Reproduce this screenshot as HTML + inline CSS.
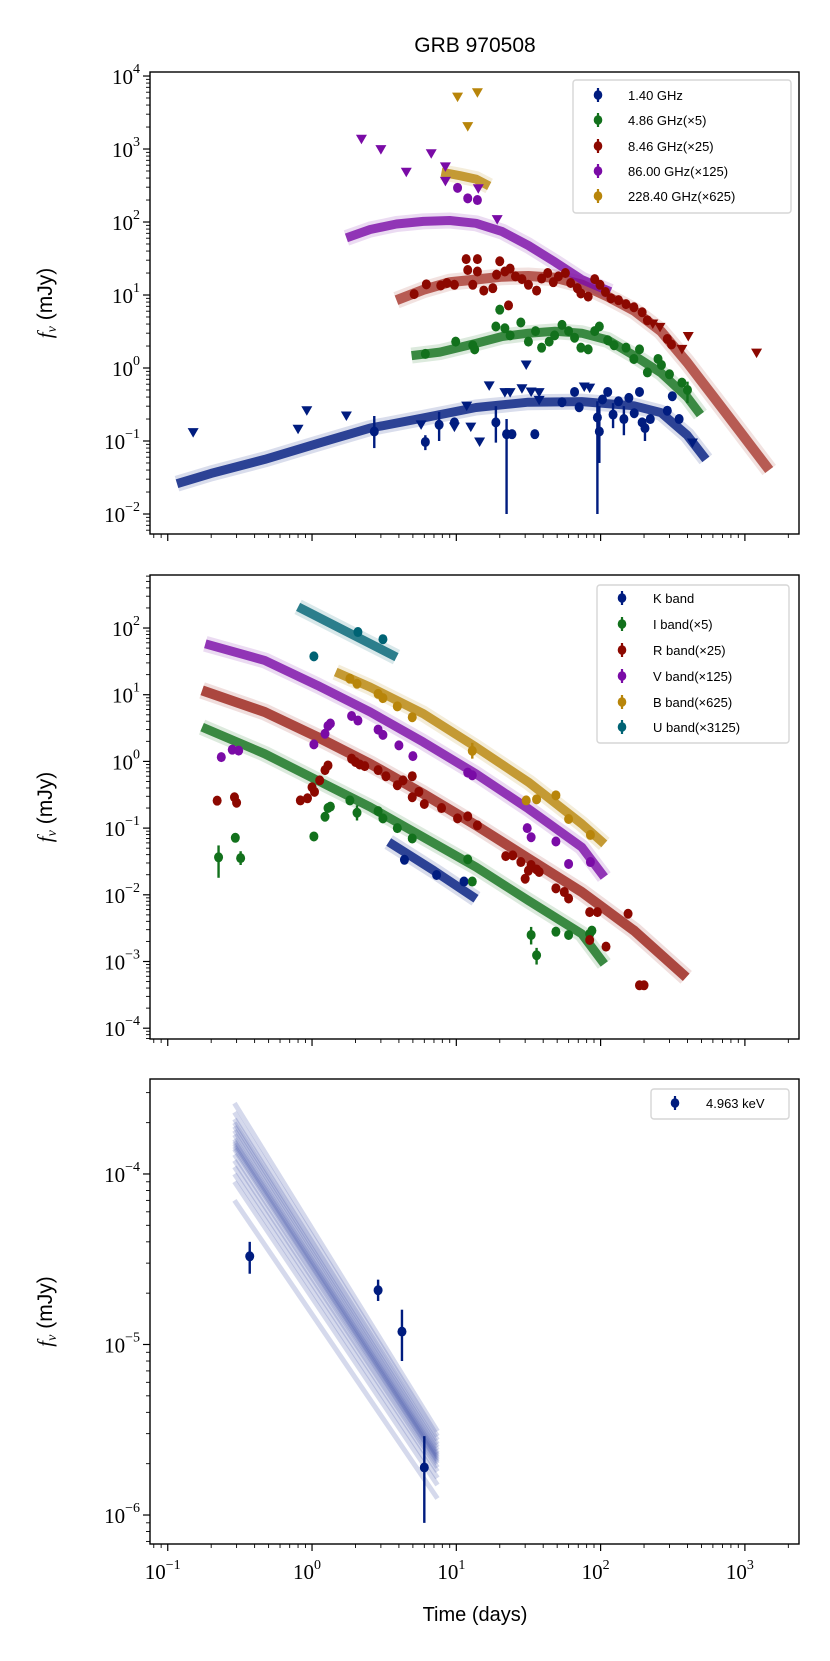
<!DOCTYPE html>
<html><head><meta charset="utf-8"><style>
html,body{margin:0;padding:0;background:#fff;}
svg{display:block;}
.tk{font-family:"Liberation Serif",serif;font-size:21px;fill:#000;}
.lg{font-family:"Liberation Sans",sans-serif;font-size:13px;fill:#000;}
</style></head><body>
<svg id="fig" width="830" height="1661" viewBox="0 0 830 1661" xmlns="http://www.w3.org/2000/svg">
<text x="475" y="52" text-anchor="middle" font-family="Liberation Sans, sans-serif" font-size="21">GRB 970508</text>
<text x="475" y="1621" text-anchor="middle" font-family="Liberation Sans, sans-serif" font-size="20">Time (days)</text>
</svg>
<script>
// ---------- data ----------
const C = {blue:'#001c7f', green:'#12711c', red:'#8c0800', purple:'#7a0ba6', gold:'#b8850a', teal:'#006374'};
// Panel 1 (radio) detections [t, f, lo, hi]
const r140pts = [[2.7,0.135,0.08,0.22],[6.1,0.097,0.075,0.12],[7.6,0.167,0.1,0.25],[9.7,0.18],[18.8,0.18,0.095,0.3],[22.3,0.124,0.01,0.2],[24.3,0.124],[35,0.124],[54,0.34],[66,0.47],[71,0.29],[95,0.21,0.01,0.35],[98,0.135,0.05,0.3],[103,0.37],[112,0.47],[122,0.23,0.15,0.33],[133,0.35],[145,0.2,0.12,0.3],[157,0.39],[171,0.24],[186,0.47],[194,0.18],[203,0.15,0.1,0.2],[221,0.2],[290,0.26],[314,0.41],[350,0.2]];
const r140lim = [[0.15,0.13],[0.8,0.145],[0.92,0.26],[1.73,0.22],[5.7,0.166],[11.8,0.30],[9.7,0.155],[12.6,0.155],[14.5,0.097],[16.9,0.57],[21.7,0.46],[23.6,0.46],[28.5,0.52],[30.5,1.1],[33,0.47],[37.5,0.46],[37.5,0.36],[77,0.55],[84,0.53],[433,0.094]];
const r486pts = [[6.1,1.56],[9.9,2.3],[13,2.05],[13.4,1.8],[20,6.3],[18.8,3.7],[21.7,3.5],[23.6,2.8],[28,4.2],[31.6,2.3],[35.4,3.2],[39,1.9],[44,2.3],[48,2.8],[54,3.9],[60,3.2],[66,2.6],[73,1.9],[82,1.8],[91,3.2],[98,3.7],[112,2.4],[124,2.05],[150,1.9],[170,1.33],[186,1.8],[211,0.87],[250,1.33],[264,1.1],[300,0.82],[366,0.63],[400,0.5,0.33,0.65]];
const r846pts = [[5.1,10.3],[6.2,14],[7.8,13.5],[8.6,14.6],[9.7,13.8],[11.7,31],[12,22],[14,31],[14,21],[13,13.8],[15.5,11.5],[17.9,12.4],[20,29],[19,19],[21.7,21],[23.6,23],[25.7,18],[28.5,16.5],[31.6,13.8],[36,11.5],[39,16.8],[43,20],[47,15],[51,18],[57,20],[62,14.6],[69,12.4],[73,10.5],[82,9.5],[91,16.5],[99,13.8],[108,11],[118,9],[133,8.5],[150,7.5],[170,6.8],[194,5.8],[211,4.5],[23,7.2],[290,2.5],[310,2.1]];
const r846lim = [[230,4.0],[258,3.6],[366,1.8],[405,2.7],[1205,1.6]];
const r86pts = [[10.2,294],[12,211],[14,200]];
const r86lim = [[2.2,1360],[3,980],[4.5,480],[6.7,860],[8.4,570],[8.4,360],[14.2,285],[19.2,108]];
const r228lim = [[10.2,5140],[14,5900],[12,2030]];
// Panel 1 model curves
const m140t = [0.116,0.2,0.47,1.09,2.53,5.9,13.7,31.6,74,171,262,398,537];
const m140f = [0.026,0.036,0.056,0.092,0.15,0.207,0.288,0.34,0.347,0.304,0.245,0.12,0.056];
const m486t = [4.9,7.7,13.7,20.8,31.6,48.4,74,112,171,262,398,492];
const m486f = [1.48,1.65,2.17,2.7,3.0,3.18,3.0,2.42,1.48,0.86,0.40,0.23];
const m846t = [3.85,5.9,9.0,13.7,20.8,31.6,48.4,74,112,171,262,398,608,927,1473];
const m846f = [8.5,11.8,15,16.3,17.8,18.2,17.2,13.9,9.5,6.1,3.18,1.19,0.40,0.134,0.040];
const m86t = [1.73,2.53,3.85,5.9,9.0,13.7,20.8,31.6,48.4,74,117];
const m86f = [60.5,79,94,102,105,96,74,47.6,28.2,16.3,11.1];
const m228t = [7.9,10.6,13.7,16.9];
const m228f = [481,431,387,311];
// Panel 2 (optical) detections
const kPts = [[4.37,0.0335],[7.3,0.0198],[11.3,0.0158]];
const iPts = [[0.225,0.0365,0.018,0.055],[0.294,0.0716],[0.32,0.0355,0.028,0.045],[1.03,0.075],[1.23,0.148],[1.29,0.2],[1.34,0.21],[1.83,0.26],[2.05,0.17,0.13,0.22],[2.87,0.18],[3.1,0.14],[3.9,0.1],[4.95,0.07],[12,0.034],[12.9,0.0158],[33,0.0025,0.0018,0.0033],[36,0.00124,0.0009,0.0016],[49,0.0028],[60,0.0025],[84,0.0026],[87,0.0029]];
const rPts = [[0.22,0.258],[0.29,0.29],[0.3,0.24],[0.83,0.26],[0.93,0.28],[1.0,0.41],[1.04,0.35],[1.13,0.52],[1.23,0.74],[1.29,0.87],[1.88,1.1],[2.0,0.98],[2.14,0.9],[2.32,0.85],[2.87,0.74],[3.25,0.6],[3.9,0.44],[4.27,0.52],[4.95,0.6],[4.95,0.29],[5.5,0.35],[6.0,0.23],[7.9,0.2],[10.2,0.14],[12,0.15],[14,0.11],[22,0.038],[24.6,0.039],[28,0.031],[30,0.0174],[31.6,0.023],[33,0.028],[36,0.024],[37.5,0.022],[49,0.0125],[56,0.011],[60,0.0088],[84,0.0055],[95,0.0055],[84,0.0021],[109,0.00167],[155,0.0052],[186,0.00044],[200,0.00044]];
const vPts = [[0.235,1.16],[0.28,1.5],[0.31,1.45],[1.03,1.8],[1.23,2.6],[1.29,3.4],[1.34,3.7],[1.88,4.8],[2.08,4.1],[2.87,3.0],[3.1,2.5],[4.0,1.74],[5.0,1.2],[12,0.68],[12.9,0.62],[31,0.1],[33,0.073],[49,0.063],[60,0.029],[85,0.031]];
const bPts = [[1.83,17.4],[2.05,14.6],[2.87,10.3],[3.1,8.9],[3.9,6.7],[4.95,4.6],[12.9,1.44,1.1,1.9],[30.5,0.26],[36,0.27],[49,0.31],[60,0.137],[85,0.079]];
const uPts = [[1.03,37.6],[2.08,87],[3.1,68]];
// Panel 2 model curves
const mKt = [3.4,7.0,13.7];
const mKf = [0.062,0.023,0.0087];
const mIt = [0.173,0.47,1.09,2.53,5.9,13.7,31.6,74,106];
const mIf = [3.27,1.30,0.52,0.207,0.073,0.026,0.0082,0.0026,0.00092];
const mRt = [0.173,0.47,1.09,2.53,5.9,13.7,31.6,74,171,392];
const mRf = [11.6,5.5,2.32,0.92,0.327,0.11,0.035,0.011,0.0029,0.00058];
const mVt = [0.182,0.47,1.09,2.53,5.9,13.7,31.6,74,106];
const mVf = [58,32.7,13.8,5.5,1.95,0.65,0.195,0.052,0.0184];
const mBt = [1.46,2.53,5.9,13.7,31.6,74,106];
const mBf = [21.9,13,5.2,1.64,0.49,0.116,0.058];
const mUt = [0.8,3.85];
const mUf = [207,36.7];
// Panel 3 (X-ray)
const xPts = [[0.37,3.29e-5,2.6e-5,4.0e-5],[2.87,2.08e-5,1.8e-5,2.4e-5],[4.2,1.19e-5,8e-6,1.6e-5],[6.0,1.9e-6,9e-7,2.9e-6]];
const xModelT = [0.29,7.4];
const xModelStart = [2.6e-4,2.3e-4,2.1e-4,2.0e-4,1.9e-4,1.8e-4,1.7e-4,1.6e-4,1.55e-4,1.5e-4,1.45e-4,1.4e-4,1.3e-4,1.2e-4,1.1e-4,1.0e-4,9e-5,7e-5];
const xModelEnd = [3.1e-6,2.9e-6,2.75e-6,2.6e-6,2.5e-6,2.4e-6,2.3e-6,2.25e-6,2.2e-6,2.15e-6,2.1e-6,2.05e-6,2.0e-6,1.9e-6,1.8e-6,1.65e-6,1.5e-6,1.25e-6];
const xTickDecades = [-1,0,1,2,3];

// ---------- scales ----------
const NS='http://www.w3.org/2000/svg';
const svg=document.getElementById('fig');
const XL=150,XR=799,XMIN=-1.123,XMAX=3.375;
function sx(t){return XL+(Math.log10(t)-XMIN)/(XMAX-XMIN)*(XR-XL);}
const P=[
 {name:'radio',top:72,bot:534,ymax:4.055,ymin:-2.274,dec:[-2,-1,0,1,2,3,4]},
 {name:'optical',top:575,bot:1039,ymax:2.795,ymin:-4.162,dec:[-4,-3,-2,-1,0,1,2]},
 {name:'xray',top:1079,bot:1544,ymax:-3.443,ymin:-6.170,dec:[-6,-5,-4]}
];
function syF(p){return f=>p.top+(p.ymax-Math.log10(f))/(p.ymax-p.ymin)*(p.bot-p.top);}
function mk(tag,attrs,parent){const e=document.createElementNS(NS,tag);for(const k in attrs)e.setAttribute(k,attrs[k]);(parent||svg).appendChild(e);return e;}

function group(name){const g=mk('g',{});


return g;}

function drawAxes(p,idx){
 const g=group(p.name+'-axes');
 for(let d=-2;d<=3;d++){for(let m=1;m<10;m++){const t=m*Math.pow(10,d);const lt=Math.log10(t);if(lt<XMIN||lt>XMAX)continue;const x=sx(t);const len=m===1?7:4;
  const tk=mk('line',{x1:x,x2:x,y1:p.bot,y2:p.bot+len,stroke:'#000','stroke-width':m===1?1.2:0.9},g);
  
  }}
 if(idx===2){xTickDecades.forEach(d=>{const x=sx(Math.pow(10,d));const tx=mk('text',{x:x-5,y:p.bot+35,'text-anchor':'middle',class:'tk'},g);tx.textContent='10';
  const s=mk('tspan',{dy:-10,'font-size':14},tx);s.textContent=(d<0?'\u2212':'')+Math.abs(d);
  
  });}
 const sy=syF(p);
 for(let d=p.dec[0]-1;d<=p.dec[p.dec.length-1];d++){for(let m=1;m<10;m++){const f=m*Math.pow(10,d);const lf=Math.log10(f);if(lf<p.ymin||lf>p.ymax)continue;const y=sy(f);const len=m===1?7:4;
  const tk=mk('line',{x1:XL-len,x2:XL,y1:y,y2:y,stroke:'#000','stroke-width':m===1?1.2:0.9},g);
  
  }}
 p.dec.forEach(d=>{const y=sy(Math.pow(10,d));const tx=mk('text',{x:XL-10,y:y+8,'text-anchor':'end',class:'tk'},g);
  const b=mk('tspan',{},tx);b.textContent='10';const s=mk('tspan',{dy:-11,'font-size':14},tx);s.textContent=(d<0?'\u2212':'')+Math.abs(d);
  
  });
 const cy=(p.top+p.bot)/2;
 const yl=mk('text',{x:0,y:0,transform:`translate(52,${cy}) rotate(-90)`,'text-anchor':'middle','font-family':'Liberation Sans, sans-serif','font-size':21},g);
 const a=mk('tspan',{'font-family':'Liberation Serif, serif','font-style':'italic'},yl);a.textContent='f';
 const b=mk('tspan',{'font-family':'Liberation Serif, serif','font-style':'italic','font-size':14,dy:4},yl);b.textContent='\u03bd';
 const c=mk('tspan',{dy:-4},yl);c.textContent='  (mJy)';
 
 
}
function drawFrame(p){const r=mk('rect',{x:XL,y:p.top,width:XR-XL,height:p.bot-p.top,fill:'none',stroke:'#000','stroke-width':1.4});
 
 }

function band(p,ts,fs,col,name,w){const sy=syF(p);const g=group(name);
 const d=ts.map((t,i)=>(i?'L':'M')+sx(t).toFixed(1)+' '+sy(fs[i]).toFixed(1)).join(' ');
 const a=mk('path',{d:d,fill:'none',stroke:col,'stroke-width':w+7,'stroke-opacity':0.15,'stroke-linejoin':'round'},g);
 
 
 const b=mk('path',{d:d,fill:'none',stroke:col,'stroke-width':w,'stroke-opacity':0.8,'stroke-linejoin':'round'},g);
 
 }

function points(p,arr,col,name){const sy=syF(p);const g=group(name);
 arr.forEach(q=>{const x=sx(q[0]),y=sy(q[1]);
  if(q.length>2){const e=mk('line',{x1:x,x2:x,y1:sy(q[2]),y2:sy(q[3]),stroke:col,'stroke-width':2.4},g);
   
   }
  const c=mk('ellipse',{cx:x,cy:y,rx:4.5,ry:5},g);
  c.setAttribute('fill',col);
  
  });}
function limits(p,arr,col,name){const sy=syF(p);const g=group(name);
 arr.forEach(q=>{const x=sx(q[0]),y=sy(q[1]);
  const t=mk('polygon',{points:`${x-5.5},${y-4.5} ${x+5.5},${y-4.5} ${x},${y+5}`,fill:col},g);
  
  });}

function legend(box,items,fs,name){const g=group(name);
 const r=mk('rect',{x:box[0],y:box[1],width:box[2],height:box[3],rx:3,fill:'#fff','fill-opacity':0.85,stroke:'#d6d6d6','stroke-width':1.4},g);
 
 
 items.forEach(it=>{const eg=group('legend-entry');g.appendChild(eg);
  const l=mk('line',{x1:it.mx,x2:it.mx,y1:it.y-7,y2:it.y+7,stroke:it.c,'stroke-width':2.2},eg);
  
  
  const c=mk('ellipse',{cx:it.mx,cy:it.y,rx:4.3,ry:4.8,fill:it.c},eg);
  
  
  const t=mk('text',{x:it.tx,y:it.y+5,class:'lg','font-size':fs},eg);t.textContent=it.label;
  
  });}

// ---------- draw ----------
P.forEach((p,i)=>drawAxes(p,i));
const p1=P[0],p2=P[1],p3=P[2];
band(p1,m140t,m140f,C.blue,'model-1.40ghz',9);
band(p1,m486t,m486f,C.green,'model-4.86ghz',9);
band(p1,m846t,m846f,'#a83a30','model-8.46ghz',10);
band(p1,m86t,m86f,C.purple,'model-86ghz',9);
band(p1,m228t,m228f,C.gold,'model-228ghz',9);
limits(p1,r140lim,C.blue,'limits-1.40ghz');
points(p1,r140pts,C.blue,'data-1.40ghz');
points(p1,r486pts,C.green,'data-4.86ghz');
points(p1,r846pts,C.red,'data-8.46ghz');
limits(p1,r846lim,C.red,'limits-8.46ghz');
points(p1,r86pts,C.purple,'data-86ghz');
limits(p1,r86lim,C.purple,'limits-86ghz');
limits(p1,r228lim,C.gold,'limits-228ghz');

band(p2,mKt,mKf,C.blue,'model-k-band',9);
band(p2,mIt,mIf,C.green,'model-i-band',9);
band(p2,mRt,mRf,'#9a2018','model-r-band',10);
band(p2,mVt,mVf,C.purple,'model-v-band',9);
band(p2,mBt,mBf,C.gold,'model-b-band',9);
band(p2,mUt,mUf,C.teal,'model-u-band',9);
points(p2,kPts,C.blue,'data-k-band');
points(p2,iPts,C.green,'data-i-band');
points(p2,rPts,C.red,'data-r-band');
points(p2,vPts,C.purple,'data-v-band');
points(p2,bPts,C.gold,'data-b-band');
points(p2,uPts,C.teal,'data-u-band');

(function(){const sy=syF(p3);const g=group('model-xray');
 xModelStart.forEach((fs,i)=>{const l=mk('line',{x1:sx(xModelT[0]),y1:sy(fs),x2:sx(xModelT[1]),y2:sy(xModelEnd[i]),stroke:'#2c43a0','stroke-width':5,'stroke-opacity':0.2},g);
  
  });})();
points(p3,xPts,C.blue,'data-xray');

P.forEach(drawFrame);

legend([573,80,218,133],[
 {mx:598,tx:628,y:95,c:C.blue,label:'1.40 GHz'},
 {mx:598,tx:628,y:120,c:C.green,label:'4.86 GHz(\u00d75)'},
 {mx:598,tx:628,y:146,c:C.red,label:'8.46 GHz(\u00d725)'},
 {mx:598,tx:628,y:171,c:C.purple,label:'86.00 GHz(\u00d7125)'},
 {mx:598,tx:628,y:196,c:C.gold,label:'228.40 GHz(\u00d7625)'}],13,'legend-radio');
legend([597,585,192,158],[
 {mx:622,tx:653,y:598,c:C.blue,label:'K band'},
 {mx:622,tx:653,y:624,c:C.green,label:'I band(\u00d75)'},
 {mx:622,tx:653,y:650,c:C.red,label:'R band(\u00d725)'},
 {mx:622,tx:653,y:676,c:C.purple,label:'V band(\u00d7125)'},
 {mx:622,tx:653,y:702,c:C.gold,label:'B band(\u00d7625)'},
 {mx:622,tx:653,y:727,c:C.teal,label:'U band(\u00d73125)'}],13,'legend-optical');
legend([651,1089,138,30],[
 {mx:675,tx:706,y:1103,c:C.blue,label:'4.963 keV'}],11.5,'legend-xray');
</script>
</body></html>
